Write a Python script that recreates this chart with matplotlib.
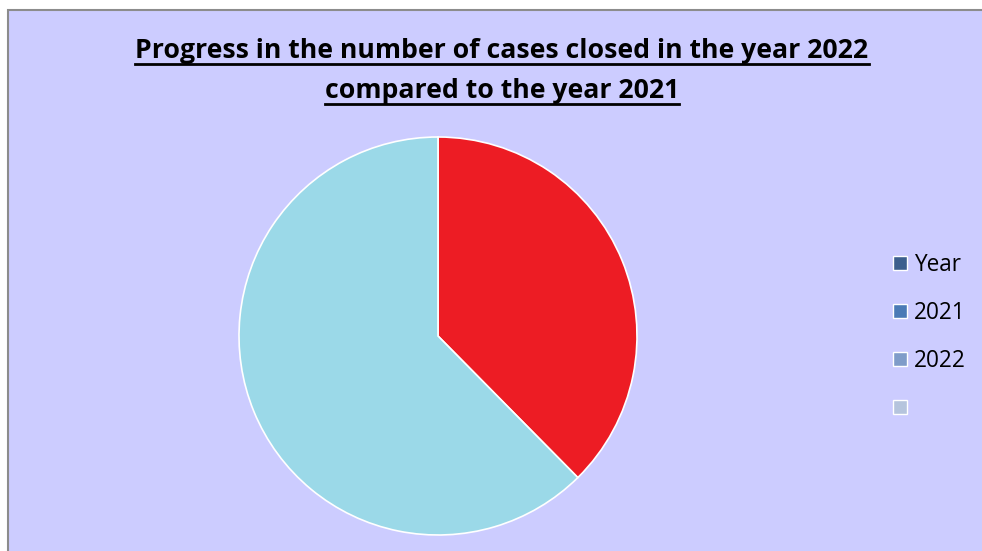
import matplotlib
matplotlib.use("Agg")
import matplotlib.pyplot as plt
from matplotlib.patches import Rectangle, Patch

# Data
slice_labels = ["2022", "2021"]
slice_values = [37.6, 62.4]
slice_colors = ["#ED1C24", "#9BD9E8"]
legend_labels = ["Year", "2021", "2022", ""]
legend_colors = ["#3C5F8D", "#4A7AB6", "#7F9CC9", "#B5C4DD"]
title_lines = ["Progress in the number of cases closed in the year 2022",
               "compared to the year 2021"]

W, H = 982, 551
FONT = ["Open Sans", "DejaVu Sans"]
fig = plt.figure(figsize=(W / 100, H / 100), dpi=100)
fig.patch.set_facecolor("white")

# chart area background with gray border
bg = Rectangle((8 / W, -0.01), 1.0, (H - 10) / H + 0.01, transform=fig.transFigure,
               facecolor="#CCCCFF", edgecolor="#8C8C8C", linewidth=1.5, zorder=0)
fig.add_artist(bg)

# pie axes: center (438,336), radius 199 px
cx, cy, r = 438, 336, 199
ax = fig.add_axes([(cx - r) / W, (H - cy - r) / H, 2 * r / W, 2 * r / H])
ax.axis("off")
ax.pie(slice_values, colors=slice_colors, startangle=90, counterclock=False,
       radius=1.0, wedgeprops=dict(edgecolor="white", linewidth=1.2))
ax.set_xlim(-1, 1)
ax.set_ylim(-1, 1)

# title, fitted to the width of the reference first line
renderer = fig.canvas.get_renderer()
baselines = [58, 98]
texts = []
for line, yb in zip(title_lines, baselines):
    t = fig.text(502 / W, 1 - yb / H, line, ha="center", va="baseline",
                 fontsize=18, fontweight="bold", family=FONT)
    texts.append(t)
w0 = texts[0].get_window_extent(renderer).width
fs = 18 * 733 / w0
for t in texts:
    t.set_fontsize(fs)
# underlines under each title line
for t, yb in zip(texts, [64, 104]):
    bb = t.get_window_extent(renderer)
    fig.add_artist(plt.Line2D([bb.x0 / W, bb.x1 / W], [1 - yb / H, 1 - yb / H],
                              transform=fig.transFigure, color="black", linewidth=2.0))

handles = [Patch(facecolor=c, edgecolor="white", linewidth=1.0) for c in legend_colors]
leg = fig.legend(handles, legend_labels, loc="upper left",
                 bbox_to_anchor=(893 / W, 1 - 253 / H), frameon=False,
                 prop=dict(family=FONT, size=16.3),
                 handlelength=0.62, handleheight=0.62, handletextpad=0.31,
                 labelspacing=1.06, borderpad=0, borderaxespad=0)

fig.savefig("out.png", dpi=100, facecolor=fig.get_facecolor())
